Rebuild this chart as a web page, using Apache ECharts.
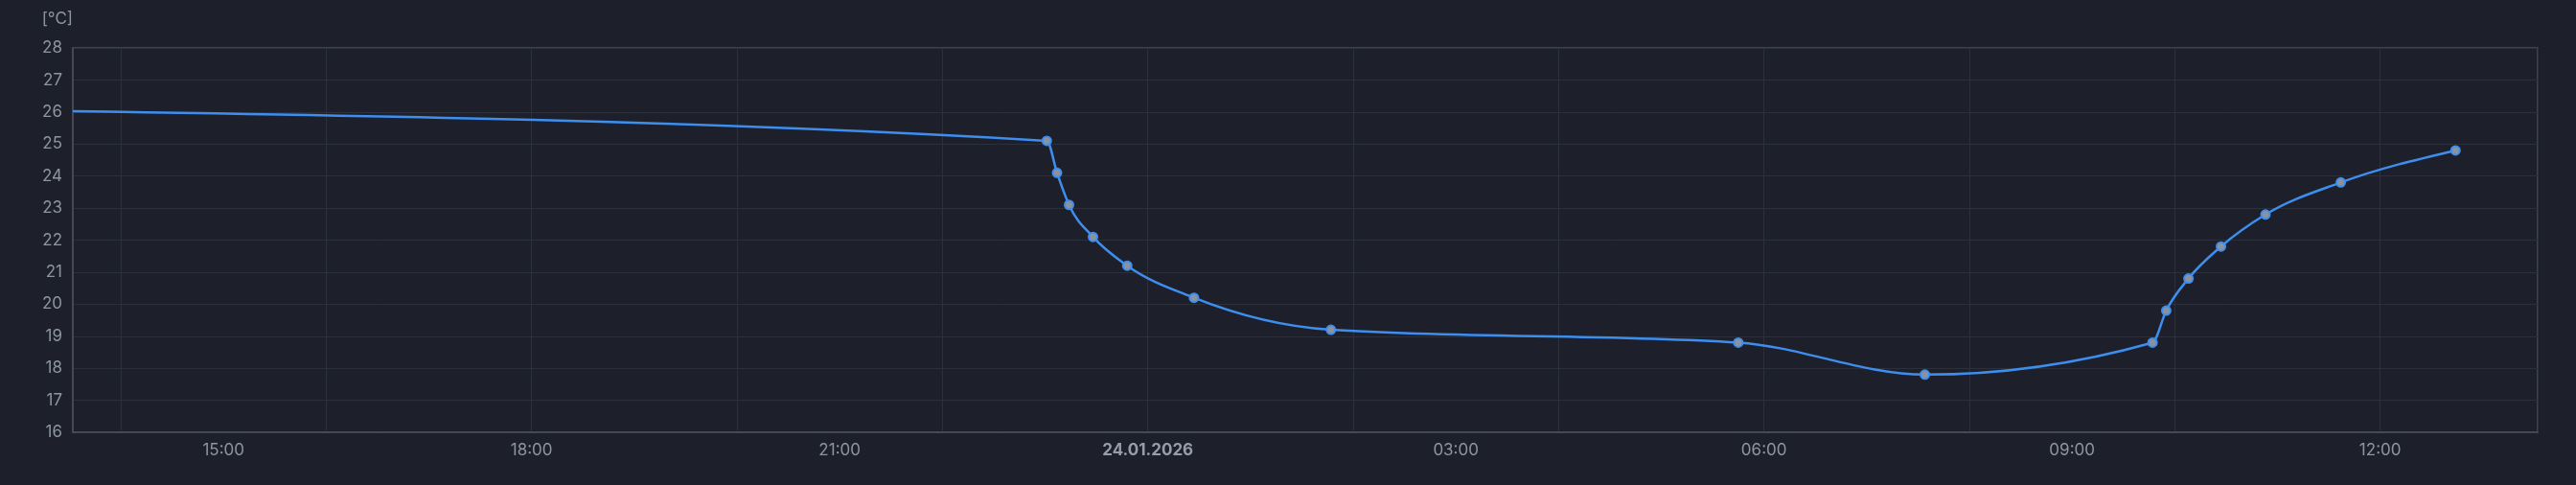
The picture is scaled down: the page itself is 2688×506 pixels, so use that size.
<!DOCTYPE html>
<html>
<head>
<meta charset="utf-8">
<script src="https://cdn.jsdelivr.net/npm/echarts@6/dist/echarts.min.js"></script>
<style>
  html, body { margin: 0; padding: 0; background: #1d202a; }
  #chart { width: 2688px; height: 506px; }
</style>
</head>
<body>
<div id="chart"></div>
<script>
// measurement times (first one is just before the visible window)
var times = [
  '2026-01-23 13:00', '2026-01-23 23:01', '2026-01-23 23:07', '2026-01-23 23:14',
  '2026-01-23 23:28', '2026-01-23 23:48', '2026-01-24 00:27', '2026-01-24 01:47',
  '2026-01-24 05:45', '2026-01-24 07:34', '2026-01-24 09:47', '2026-01-24 09:55',
  '2026-01-24 10:08', '2026-01-24 10:27', '2026-01-24 10:53', '2026-01-24 11:37',
  '2026-01-24 12:44'
];
var temps = [26.05, 25.1, 24.1, 23.1, 22.1, 21.2, 20.2, 19.2, 18.8, 17.8, 18.8, 19.8, 20.8, 21.8, 22.8, 23.8, 24.8];

var viewStart = '2026-01-23 13:32';
var viewEnd = '2026-01-24 13:32';
var yMin = 16, yMax = 28;

var lineColor = '#3d8eef';

// x in hours since 23.01.2026 00:00
function toHours(s) {
  var p = s.split(' ');
  var d = p[0].split('-'), t = p[1].split(':');
  return (parseInt(d[2], 10) - 23) * 24 + parseInt(t[0], 10) + parseInt(t[1], 10) / 60;
}
function pad(n) { return (n < 10 ? '0' : '') + n; }

var points = times.map(function (t, i) { return [toHours(t), temps[i]]; });

// monotone cubic tangents (pixel space)
function sgn(v) { return v < 0 ? -1 : 1; }
function monoTangents(px) {
  var n = px.length, t = [];
  for (var i = 1; i < n - 1; i++) {
    var h0 = px[i][0] - px[i - 1][0], h1 = px[i + 1][0] - px[i][0];
    var s0 = (px[i][1] - px[i - 1][1]) / h0, s1 = (px[i + 1][1] - px[i][1]) / h1;
    var p = (s0 * h1 + s1 * h0) / (h0 + h1);
    t[i] = (sgn(s0) + sgn(s1)) * Math.min(Math.abs(s0), Math.abs(s1), 0.5 * Math.abs(p)) || 0;
  }
  var ha = px[1][0] - px[0][0];
  t[0] = (3 * (px[1][1] - px[0][1]) / ha - t[1]) / 2;
  var hb = px[n - 1][0] - px[n - 2][0];
  t[n - 1] = (3 * (px[n - 1][1] - px[n - 2][1]) / hb - t[n - 2]) / 2;
  return t;
}

function renderSegment(params, api) {
  var i = params.dataIndex;
  if (i >= points.length - 1) return null;
  var px = points.map(function (p) { return api.coord(p); });
  var tg = monoTangents(px);
  var a = px[i], b = px[i + 1];
  var dx = (b[0] - a[0]) / 3;
  return {
    type: 'bezierCurve',
    shape: {
      x1: a[0], y1: a[1], x2: b[0], y2: b[1],
      cpx1: a[0] + dx, cpy1: a[1] + dx * tg[i],
      cpx2: b[0] - dx, cpy2: b[1] - dx * tg[i + 1]
    },
    style: { fill: 'none', stroke: lineColor, lineWidth: 2.5, lineCap: 'round' }
  };
}

let myChart = echarts.init(document.getElementById('chart'));
myChart.setOption({
  backgroundColor: '#1d202a',
  animation: false,
  textStyle: { fontFamily: 'Inter' },
  grid: { left: 76, right: 40, top: 50, bottom: 55, show: true, borderColor: '#4a4f5b', borderWidth: 1.5 },
  xAxis: [
    {
      type: 'value',
      min: toHours(viewStart),
      max: toHours(viewEnd),
      splitNumber: 8,
      axisLine: { show: true, lineStyle: { color: '#4a4f5b', width: 1.5 } },
      axisTick: { show: false },
      splitLine: { show: false },
      axisLabel: {
        color: '#8d94a2',
        fontSize: 17,
        margin: 10,
        formatter: function (v) {
          var h = Math.round(v);
          if (Math.abs(v - h) > 0.01) return '';
          if (h % 24 === 0) return '{d|' + pad(23 + h / 24) + '.01.2026}';
          return pad(h % 24) + ':00';
        },
        rich: { d: { fontWeight: 'bold', fontSize: 17, color: '#969cab', fontFamily: 'Inter' } }
      }
    },
    {
      // 2h grid lines, no labels
      type: 'value',
      min: toHours(viewStart),
      max: toHours(viewEnd),
      splitNumber: 12,
      axisLine: { show: false },
      axisTick: { show: false },
      axisLabel: { show: false },
      splitLine: { show: true, lineStyle: { color: '#2c303b', width: 1 } }
    }
  ],
  yAxis: {
    type: 'value',
    min: yMin,
    max: yMax,
    interval: 1,
    name: '[°C]',
    nameGap: 22,
    nameTextStyle: { color: '#8d94a2', fontSize: 17, align: 'right', verticalAlign: 'bottom' },
    axisLine: { show: true, lineStyle: { color: '#4a4f5b', width: 1.5 } },
    axisTick: { show: false },
    axisLabel: { color: '#8d94a2', fontSize: 17, margin: 11 },
    splitLine: { lineStyle: { color: '#2c303b', width: 1 } }
  },
  series: [
    {
      type: 'custom',
      xAxisIndex: 0,
      clip: true,
      data: points,
      renderItem: renderSegment,
      z: 2
    },
    {
      type: 'scatter',
      xAxisIndex: 0,
      clip: true,
      data: points,
      symbol: 'circle',
      symbolSize: 9,
      itemStyle: { color: '#8a929f', borderColor: lineColor, borderWidth: 2, opacity: 1 },
      z: 3
    }
  ]
});
</script>
</body>
</html>
